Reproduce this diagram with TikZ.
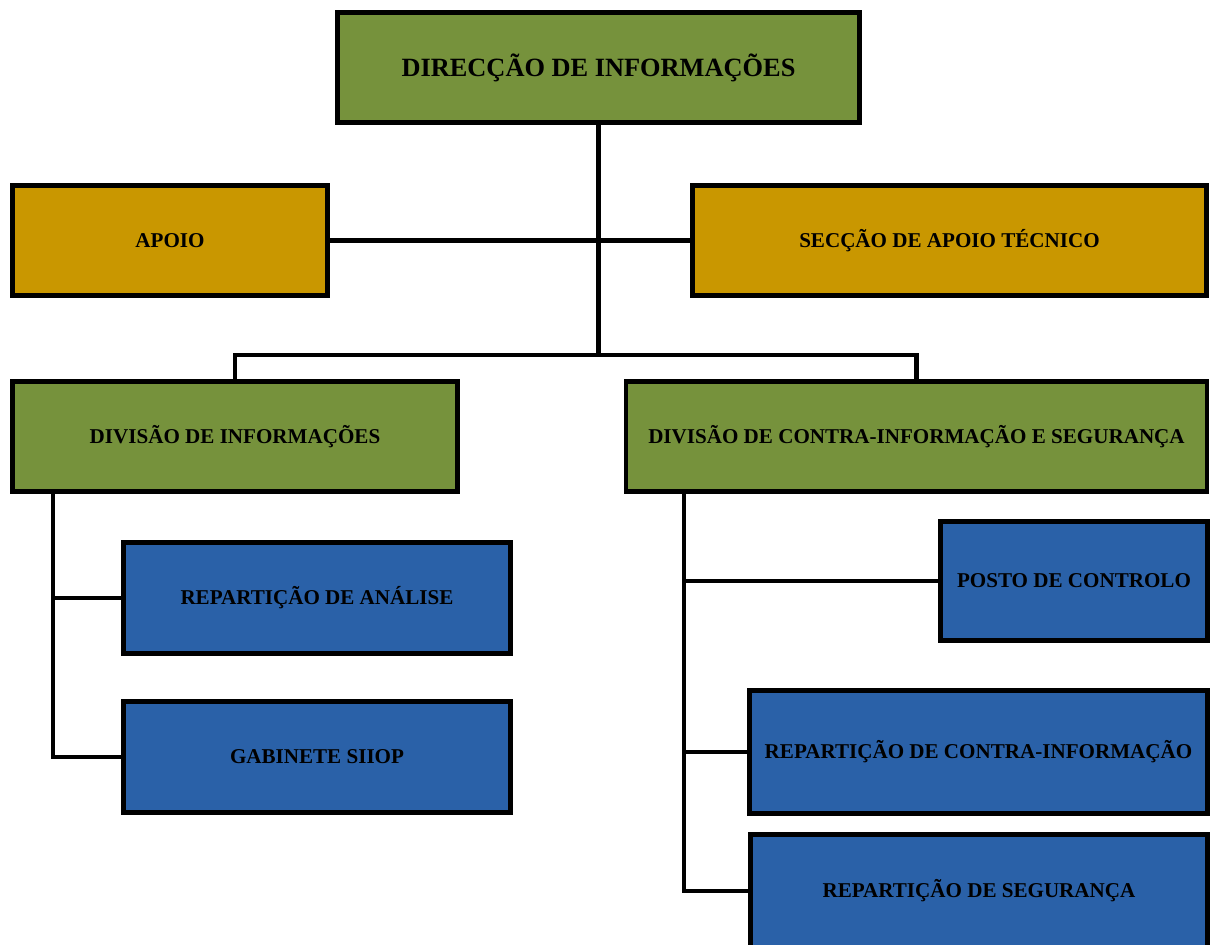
\documentclass[tikz,border=0pt]{standalone}
\usepackage{fontspec}
\setmainfont{Liberation Serif}
\usepackage{tikz}
\usetikzlibrary{positioning}

\definecolor{greenbox}{RGB}{118,146,60}
\definecolor{goldbox}{RGB}{201,151,0}
\definecolor{bluebox}{RGB}{42,97,168}

\begin{document}
\begin{tikzpicture}[x=0.02cm,y=-0.02cm]

% Define styles for different elements
\tikzstyle{unit} = [rectangle, draw=black, line width=2.6pt, text centered, font=\bfseries\fontsize{12}{14}\selectfont, inner sep=0pt]
\tikzstyle{direction} = [unit, fill=greenbox]
\tikzstyle{support} = [unit, fill=goldbox]
\tikzstyle{section} = [unit, fill=bluebox]
\tikzstyle{link} = [line width=2.3pt, line join=miter]

\useasboundingbox (0,0) rectangle (1211,944);

% Draw the nodes
\node (dir) [direction, minimum width=10.44cm, minimum height=2.2cm, font=\bfseries\fontsize{15}{17}\selectfont] at (598.5,67.5) {DIRECÇÃO DE INFORMAÇÕES};
\node (apoio) [support, minimum width=6.3cm, minimum height=2.2cm] at (170,240.5) {APOIO};
\node (tecnico) [support, minimum width=10.28cm, minimum height=2.2cm] at (949.5,240.5) {SECÇÃO DE APOIO TÉCNICO};
\node (divinf) [direction, minimum width=8.9cm, minimum height=2.2cm] at (235,436.5) {DIVISÃO DE INFORMAÇÕES};
\node (divcis) [direction, minimum width=11.62cm, minimum height=2.2cm] at (916.5,436.5) {DIVISÃO DE CONTRA-INFORMAÇÃO E SEGURANÇA};
\node (analise) [section, minimum width=7.74cm, minimum height=2.22cm] at (317,598) {REPARTIÇÃO DE ANÁLISE};
\node (gabinete) [section, minimum width=7.74cm, minimum height=2.22cm] at (317,757) {GABINETE SIIOP};
\node (posto) [section, minimum width=5.34cm, minimum height=2.38cm] at (1074,581) {POSTO DE CONTROLO};
\node (contrainf) [section, minimum width=9.16cm, minimum height=2.46cm] at (978.5,752) {REPARTIÇÃO DE CONTRA-INFORMAÇÃO};
\node (seguranca) [section, minimum width=9.14cm, minimum height=2.26cm] at (979,891) {REPARTIÇÃO DE SEGURANÇA};

% Draw the connectors
\coordinate (hub) at (598.5,355);
\draw [link] (dir.south) -- (hub);
\draw [link] (apoio.east) -- (tecnico.west);
\draw [link] (divinf.north) |- (hub) -| (divcis.north);

\draw [link] ([xshift=0.86cm]divinf.south west) |- (gabinete.west);
\draw [link] (analise.west) -| ([xshift=0.86cm]divinf.south west);

\draw [link] ([xshift=1.2cm]divcis.south west) |- (seguranca.west);
\draw [link] (posto.west) -| ([xshift=1.2cm]divcis.south west);
\draw [link] (contrainf.west) -| ([xshift=1.2cm]divcis.south west);
\end{tikzpicture}
\end{document}
